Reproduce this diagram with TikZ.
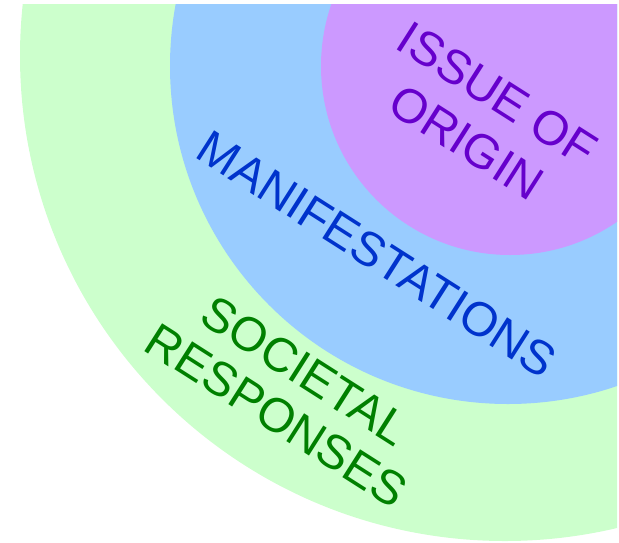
\documentclass[tikz,border=0pt]{standalone}
\usepackage{fontspec}
\setmainfont{Liberation Sans}
\definecolor{ringgreen}{HTML}{CCFFCC}
\definecolor{ringblue}{HTML}{99CCFF}
\definecolor{ringpurple}{HTML}{CC99FF}
\definecolor{txtgreen}{HTML}{008000}
\definecolor{txtblue}{HTML}{0033CC}
\definecolor{txtpurple}{HTML}{6600CC}
\tikzset{
  ringlabel/.style={font=\fontsize{48}{53}\selectfont, align=center, inner sep=0pt, rotate=-32.5}
}
\begin{document}
\begin{tikzpicture}[x=1pt,y=-1pt]
\useasboundingbox (0,0) rectangle (619,542);
\begin{scope}
\clip (0,4) rectangle (617,542);
\fill[ringgreen] (505,56) circle[radius=485];
\fill[ringblue] (508,66) circle[radius=338];
\fill[ringpurple] (510,66) circle[radius=189];
\end{scope}
\node[ringlabel, text=txtpurple, font=\fontsize{48}{57}\selectfont] (origin) at (482,118) {ISSUE OF\\ORIGIN};
\node[ringlabel, text=txtblue] (manif) at (377,254) {MANIFESTATIONS};
\node[ringlabel, text=txtgreen] (soc) at (291,393) {SOCIETAL\\RESPONSES};
\end{tikzpicture}
\end{document}
